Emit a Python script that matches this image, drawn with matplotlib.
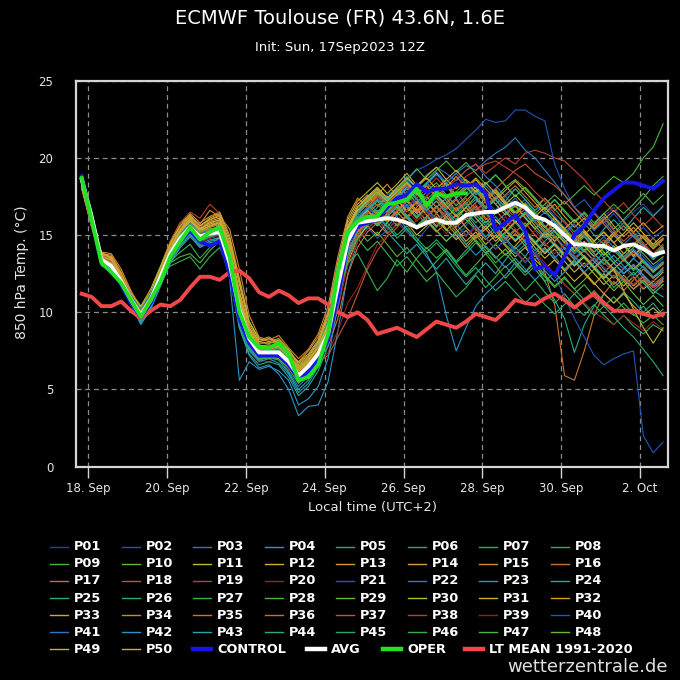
import numpy as np
import matplotlib
matplotlib.use("Agg")
import matplotlib.pyplot as plt
from matplotlib.lines import Line2D

# forecast steps (hours after init, 17 Sep 12Z = 14:00 local)
init_local = np.datetime64("2023-09-17T14:00")
hours = np.arange(6, 361, 6)
times = init_local + hours.astype("timedelta64[h]")

tick_days = np.arange(np.datetime64("2023-09-18"), np.datetime64("2023-10-03"), np.timedelta64(2, "D"))
tick_labels = ["18. Sep", "20. Sep", "22. Sep", "24. Sep", "26. Sep", "28. Sep", "30. Sep", "2. Oct"]

# ensemble members P01..P50 (850 hPa temperature, degC)
p01 = [18.9, 16.5, 13.6, 12.8, 11.7, 10.5, 9.6, 11.0, 12.6, 14.1, 15.0, 15.8, 14.6, 15.5, 15.0, 12.8, 9.8, 8.0, 7.1, 7.6,
       7.2, 6.5, 5.6, 6.3, 7.8, 10.2, 13.4, 15.5, 16.2, 16.6, 17.0, 16.4, 17.3, 17.8, 17.0, 17.6, 18.2, 17.5, 17.0, 17.9,
       18.3, 17.6, 18.0, 17.1, 16.4, 17.0, 16.2, 15.5, 16.0, 15.2, 15.8, 16.4, 15.6, 16.2, 16.8, 15.9, 16.5, 17.0, 16.3, 16.8]
p02 = [18.4, 15.8, 13.1, 13.2, 12.3, 11.0, 10.0, 10.9, 12.0, 13.5, 14.4, 15.1, 14.2, 14.6, 14.9, 13.5, 10.8, 8.6, 7.6, 7.4,
       7.7, 7.0, 6.1, 6.6, 7.0, 8.0, 10.6, 13.8, 15.0, 15.5, 14.8, 15.3, 16.0, 15.2, 14.6, 15.4, 16.1, 15.3, 14.8, 15.6,
       16.5, 17.2, 16.6, 17.5, 18.0, 17.3, 16.6, 17.0, 16.2, 15.5, 14.8, 15.3, 14.6, 15.2, 14.5, 13.8, 14.4, 13.6, 12.9, 13.5]
p03 = [18.7, 16.3, 13.5, 12.9, 11.8, 10.9, 9.9, 10.7, 12.5, 14.0, 15.2, 15.6, 15.2, 14.8, 15.4, 13.0, 9.5, 7.8, 7.0, 7.2,
       7.0, 6.2, 5.2, 5.9, 6.8, 8.5, 11.8, 15.0, 16.5, 17.2, 17.8, 17.2, 18.0, 18.6, 18.1, 18.9, 19.4, 19.0, 18.5, 19.2,
       19.6, 18.8, 18.2, 17.5, 16.8, 17.3, 16.5, 15.6, 15.0, 14.2, 13.5, 14.1, 13.3, 12.6, 13.2, 12.5, 13.0, 12.2, 11.6, 12.0]
p04 = [18.5, 16.0, 13.2, 13.1, 12.1, 10.7, 9.5, 10.5, 12.1, 13.6, 14.6, 15.3, 14.8, 15.0, 14.6, 12.5, 9.0, 7.2, 6.4, 6.6,
       6.0, 5.0, 3.3, 3.9, 4.0, 5.5, 8.8, 12.5, 14.6, 15.8, 16.2, 15.5, 16.3, 17.0, 16.2, 16.8, 17.4, 16.6, 16.0, 16.8,
       17.3, 16.5, 15.8, 16.4, 17.0, 16.2, 15.4, 14.8, 15.3, 14.5, 13.8, 14.3, 13.6, 14.2, 13.4, 12.8, 13.5, 12.9, 12.2, 12.7]
p05 = [18.8, 16.4, 13.3, 12.7, 12.2, 11.1, 10.2, 11.2, 12.8, 14.3, 15.3, 16.0, 15.4, 15.8, 15.6, 13.8, 10.5, 8.5, 7.8, 7.6,
       7.9, 7.1, 6.3, 6.9, 7.9, 9.4, 12.2, 15.2, 16.0, 15.4, 16.1, 15.2, 14.5, 13.8, 14.4, 13.6, 12.8, 13.5, 12.6, 11.8,
       12.5, 13.2, 12.5, 13.4, 14.2, 13.6, 14.5, 15.2, 14.6, 15.3, 14.5, 13.9, 14.6, 15.4, 16.0, 15.3, 16.1, 16.8, 16.2, 16.9]
p06 = [18.3, 15.9, 13.6, 13.3, 12.4, 10.9, 9.7, 10.6, 12.2, 13.9, 15.0, 15.7, 15.1, 15.5, 15.8, 14.0, 11.0, 8.8, 7.6, 7.8,
       7.5, 6.9, 6.0, 6.4, 7.2, 8.4, 11.0, 14.2, 15.6, 16.8, 17.5, 16.8, 17.6, 18.4, 17.6, 18.2, 17.5, 16.8, 17.4, 16.5,
       15.8, 16.4, 15.6, 14.8, 15.4, 14.6, 13.8, 14.5, 13.6, 12.8, 13.4, 12.6, 11.8, 12.5, 11.6, 12.2, 11.5, 12.0, 11.2, 11.8]
p07 = [18.6, 16.1, 13.4, 12.9, 11.9, 10.6, 9.4, 10.4, 12.0, 13.4, 14.5, 15.2, 14.5, 14.9, 15.0, 13.0, 10.0, 8.1, 7.3, 7.3,
       7.6, 6.9, 6.0, 6.8, 7.6, 9.0, 12.4, 15.6, 16.6, 16.0, 16.8, 17.4, 16.6, 17.2, 16.4, 15.7, 16.4, 17.1, 16.3, 17.0,
       17.8, 17.1, 16.4, 17.2, 18.0, 17.3, 16.6, 17.4, 16.7, 15.9, 15.2, 15.8, 15.0, 14.4, 15.1, 15.8, 15.1, 14.4, 13.7, 14.3]
p08 = [18.9, 16.6, 13.8, 13.1, 12.0, 10.6, 9.6, 10.9, 12.4, 13.8, 14.9, 15.6, 15.0, 15.3, 15.5, 13.6, 10.4, 8.4, 7.5, 7.4,
       7.3, 6.7, 5.8, 6.3, 7.1, 8.2, 10.8, 13.6, 15.0, 15.8, 16.4, 17.1, 16.3, 16.9, 16.1, 16.8, 17.6, 17.0, 17.8, 18.4,
       17.7, 18.3, 18.9, 18.2, 17.5, 18.1, 17.4, 16.6, 17.3, 16.5, 15.8, 16.4, 15.6, 16.2, 15.4, 16.0, 16.7, 17.4, 18.2, 18.8]
p09 = [18.4, 16.0, 13.0, 12.8, 12.1, 11.2, 10.3, 11.3, 12.7, 13.2, 13.6, 13.8, 13.2, 14.0, 14.6, 13.4, 10.6, 8.6, 7.6, 7.6,
       7.8, 7.2, 6.5, 7.0, 7.7, 8.9, 11.6, 14.4, 15.4, 14.6, 15.2, 14.4, 13.6, 14.2, 13.4, 12.6, 13.3, 14.0, 13.2, 12.4,
       13.1, 13.8, 13.0, 12.2, 12.9, 13.6, 12.8, 12.0, 12.6, 11.8, 11.2, 11.8, 11.0, 10.4, 11.0, 10.3, 9.8, 10.4, 9.6, 10.2]
p10 = [18.7, 16.3, 13.5, 13.0, 12.0, 10.8, 9.9, 10.9, 12.3, 13.9, 15.0, 15.6, 15.2, 15.4, 15.3, 13.4, 10.1, 8.2, 7.4, 7.5,
       7.3, 6.6, 5.7, 6.4, 7.4, 8.8, 12.0, 15.0, 16.4, 17.0, 16.3, 16.9, 17.6, 16.8, 16.1, 16.8, 16.0, 15.3, 16.0, 16.8,
       17.5, 16.8, 17.4, 18.1, 18.6, 18.0, 17.3, 16.6, 15.9, 15.2, 14.5, 15.1, 14.4, 13.7, 14.3, 13.6, 14.2, 14.9, 14.2, 14.8]
p11 = [18.2, 15.7, 13.9, 13.5, 12.5, 11.3, 10.4, 11.5, 13.0, 14.6, 15.8, 16.3, 15.6, 16.0, 16.2, 14.6, 11.8, 9.2, 8.1, 8.0,
       8.2, 7.5, 6.6, 7.1, 8.0, 9.6, 12.6, 15.4, 16.8, 17.4, 18.0, 17.2, 17.8, 18.5, 17.7, 18.3, 19.0, 18.2, 17.4, 18.0,
       18.6, 17.8, 17.0, 16.3, 16.9, 16.1, 15.4, 16.0, 15.2, 14.5, 15.1, 14.3, 13.6, 14.2, 15.0, 14.3, 13.6, 14.3, 13.5, 14.1]
p12 = [18.5, 16.2, 13.7, 13.4, 12.2, 10.9, 9.8, 10.8, 12.4, 14.2, 15.4, 16.1, 15.5, 15.2, 15.7, 13.9, 10.6, 8.6, 7.8, 7.6,
       7.8, 7.0, 6.2, 6.7, 7.3, 8.2, 10.4, 13.2, 14.8, 15.6, 15.0, 15.8, 16.5, 15.8, 15.0, 15.6, 16.2, 15.4, 14.7, 15.3,
       14.6, 13.8, 14.4, 13.7, 14.3, 15.0, 14.2, 13.5, 14.1, 13.3, 12.6, 13.2, 12.5, 11.8, 12.4, 11.7, 12.3, 11.5, 12.0, 12.6]
p13 = [18.1, 15.6, 13.8, 13.7, 12.6, 11.2, 10.1, 11.0, 12.6, 14.4, 15.6, 16.4, 15.8, 16.2, 16.5, 15.0, 12.2, 9.4, 8.2, 8.4,
       8.0, 7.4, 6.8, 7.5, 8.4, 10.0, 13.0, 15.8, 17.0, 17.6, 16.9, 17.5, 16.8, 16.1, 16.7, 15.9, 15.2, 15.8, 15.0, 14.2,
       14.9, 15.6, 14.8, 15.5, 16.2, 15.5, 16.1, 15.3, 14.6, 15.2, 14.4, 15.0, 15.7, 16.4, 15.6, 14.9, 15.5, 14.8, 14.1, 14.7]
p14 = [18.0, 15.5, 13.5, 13.6, 12.4, 11.0, 9.9, 10.9, 12.5, 14.0, 15.1, 15.9, 15.3, 15.6, 15.9, 14.2, 11.2, 8.9, 7.9, 7.7,
       7.9, 7.2, 6.4, 6.9, 7.5, 8.6, 11.2, 14.0, 15.2, 16.0, 16.6, 15.9, 16.5, 17.2, 16.4, 17.0, 17.8, 18.4, 17.6, 18.2,
       17.4, 16.7, 17.3, 16.5, 15.8, 16.4, 15.6, 14.9, 15.5, 14.7, 14.0, 14.6, 13.9, 14.5, 15.2, 14.4, 13.7, 14.3, 13.6, 14.2]
p15 = [18.3, 15.8, 13.9, 13.8, 12.8, 11.4, 10.2, 11.2, 12.9, 14.5, 15.6, 16.2, 15.7, 16.6, 16.2, 15.4, 12.8, 9.8, 8.4, 8.2,
       8.5, 7.7, 7.0, 7.6, 8.6, 10.4, 13.6, 16.2, 17.4, 16.8, 17.6, 18.3, 17.5, 18.1, 17.4, 16.6, 17.2, 16.4, 15.6, 16.2,
       15.4, 14.7, 15.3, 14.5, 15.1, 14.3, 13.6, 14.2, 13.4, 12.7, 13.3, 12.5, 11.8, 12.5, 11.8, 12.4, 11.7, 12.3, 11.6, 12.1]
p16 = [18.4, 15.9, 13.6, 13.3, 12.3, 11.0, 9.9, 10.7, 12.4, 14.1, 15.2, 15.9, 15.2, 15.6, 15.8, 13.6, 10.4, 8.4, 7.6, 7.5,
       7.7, 7.0, 6.1, 6.6, 7.4, 8.7, 11.4, 14.5, 15.8, 16.5, 16.0, 16.8, 17.3, 16.6, 17.2, 16.5, 15.8, 16.4, 15.6, 16.3,
       16.9, 16.1, 15.4, 14.7, 15.3, 14.5, 13.8, 12.6, 10.5, 5.9, 5.6, 7.5, 9.8, 11.2, 12.0, 11.4, 12.1, 12.8, 12.2, 12.9]
p17 = [18.2, 15.7, 13.4, 13.5, 12.5, 11.1, 10.0, 10.8, 12.2, 13.6, 14.7, 15.4, 14.9, 15.2, 15.4, 13.3, 9.8, 7.9, 7.2, 7.0,
       7.3, 6.6, 5.9, 6.5, 7.0, 7.8, 9.6, 12.4, 14.2, 15.2, 15.8, 15.1, 15.7, 16.3, 15.6, 16.2, 16.9, 16.2, 15.5, 16.1,
       16.8, 16.0, 16.6, 15.9, 15.2, 15.8, 15.0, 14.3, 14.9, 14.1, 13.4, 14.0, 13.3, 12.6, 13.2, 12.5, 13.1, 12.4, 11.8, 12.3]
p18 = [18.6, 16.2, 13.2, 13.2, 12.2, 10.8, 9.8, 10.6, 12.1, 13.7, 14.8, 15.5, 14.8, 15.1, 15.3, 13.2, 10.0, 8.0, 7.2, 7.3,
       7.1, 6.4, 5.5, 6.1, 6.8, 8.0, 10.2, 13.4, 15.0, 16.0, 16.6, 16.0, 16.6, 17.3, 16.6, 17.2, 16.5, 17.1, 17.8, 17.0,
       16.2, 16.9, 17.5, 16.8, 16.1, 16.7, 15.9, 15.2, 15.8, 15.0, 14.3, 14.9, 14.1, 14.7, 14.0, 13.3, 13.9, 13.2, 12.6, 13.1]
p19 = [18.8, 16.4, 13.7, 13.4, 12.1, 10.9, 10.0, 11.1, 12.8, 14.6, 15.8, 16.5, 16.1, 17.0, 16.4, 14.2, 10.8, 8.6, 7.6, 7.7,
       7.5, 6.8, 6.0, 6.6, 7.5, 9.0, 12.0, 15.0, 16.2, 16.8, 17.4, 16.7, 17.4, 18.0, 17.4, 18.0, 18.7, 18.0, 18.6, 19.2,
       19.6, 19.0, 19.5, 20.0, 19.6, 20.3, 20.5, 20.3, 20.0, 19.8, 19.2, 18.6, 17.8, 17.2, 16.5, 17.1, 16.3, 15.6, 16.2, 15.5]
p20 = [18.5, 16.0, 13.3, 13.1, 12.0, 10.7, 9.6, 10.5, 11.9, 13.2, 14.2, 14.9, 14.3, 14.5, 14.6, 12.6, 9.4, 7.6, 6.9, 6.8,
       7.0, 6.3, 5.5, 6.0, 6.6, 7.4, 8.8, 10.6, 11.6, 13.0, 14.4, 15.0, 15.8, 15.2, 16.0, 16.7, 16.0, 16.6, 17.3, 16.5,
       17.0, 16.3, 15.6, 16.2, 15.4, 14.7, 15.3, 14.5, 13.8, 14.4, 13.7, 13.0, 13.6, 12.9, 12.3, 12.9, 12.2, 11.6, 12.1, 11.5]
p21 = [18.7, 16.3, 13.5, 13.0, 11.9, 10.8, 9.8, 10.8, 12.4, 14.0, 15.0, 15.6, 15.0, 15.3, 15.4, 13.4, 10.3, 8.4, 7.5, 7.4,
       7.3, 6.7, 5.8, 6.4, 7.4, 9.2, 12.8, 15.4, 16.0, 16.6, 17.2, 17.6, 18.0, 18.6, 19.2, 19.5, 19.9, 20.2, 20.6, 21.2,
       21.8, 22.5, 22.3, 22.4, 23.1, 23.1, 22.7, 22.4, 19.6, 18.0, 16.8, 17.3, 16.5, 15.8, 16.4, 15.6, 14.9, 15.5, 14.8, 15.3]
p22 = [18.6, 16.1, 13.2, 12.9, 12.0, 10.9, 9.9, 10.9, 12.2, 13.7, 14.6, 15.3, 14.7, 15.0, 15.2, 13.1, 9.9, 8.1, 7.3, 7.3,
       7.2, 6.6, 5.7, 6.2, 7.1, 8.6, 11.8, 14.8, 16.0, 16.7, 17.3, 16.8, 17.5, 18.2, 17.6, 18.3, 18.9, 18.4, 19.0, 19.5,
       19.2, 19.8, 20.3, 20.7, 21.3, 20.5, 20.0, 19.2, 18.4, 17.6, 16.8, 16.0, 15.3, 15.9, 15.1, 14.4, 15.0, 14.3, 13.6, 14.1]
p23 = [18.5, 16.0, 13.4, 13.1, 12.1, 10.7, 9.4, 10.4, 11.9, 13.4, 14.4, 15.1, 14.4, 14.7, 14.8, 12.4, 9.2, 7.5, 6.8, 7.0,
       6.7, 6.0, 4.8, 5.4, 6.5, 8.4, 11.8, 14.8, 16.1, 16.8, 16.2, 16.9, 16.2, 15.4, 14.6, 13.8, 12.6, 9.8, 7.5, 9.0,
       10.4, 11.2, 11.8, 12.4, 13.2, 12.6, 13.4, 14.1, 13.5, 14.2, 13.6, 12.9, 13.5, 12.8, 12.2, 12.8, 13.5, 14.1, 13.4, 14.0]
p24 = [18.4, 15.9, 13.3, 13.2, 12.3, 11.0, 9.9, 10.9, 12.3, 13.8, 14.9, 15.5, 15.0, 15.2, 15.6, 13.7, 10.6, 8.4, 7.5, 7.6,
       7.4, 6.7, 5.9, 6.5, 7.3, 8.8, 12.2, 15.2, 16.6, 17.3, 17.9, 17.3, 18.0, 18.8, 18.0, 17.3, 17.9, 17.2, 16.5, 17.1,
       16.3, 15.6, 16.2, 15.4, 14.7, 15.3, 14.6, 13.9, 14.5, 13.8, 13.1, 13.7, 13.0, 12.3, 12.9, 12.2, 11.5, 12.1, 11.4, 11.0]
p25 = [18.8, 16.4, 13.6, 13.0, 11.8, 10.5, 9.3, 10.3, 11.8, 13.3, 14.3, 15.0, 14.3, 14.6, 14.7, 12.3, 9.0, 7.3, 6.6, 6.8,
       6.6, 5.8, 4.6, 5.2, 6.2, 7.8, 11.0, 14.2, 15.6, 16.3, 15.7, 16.4, 17.0, 16.3, 15.6, 16.2, 15.5, 16.1, 16.8, 16.0,
       15.3, 15.9, 15.1, 14.4, 13.8, 14.4, 13.2, 12.0, 10.8, 9.6, 7.4, 9.2, 10.4, 11.2, 10.6, 11.3, 10.7, 10.0, 10.6, 9.8]
p26 = [18.6, 16.2, 13.5, 13.1, 12.1, 10.9, 9.8, 10.7, 12.3, 13.9, 14.9, 15.6, 15.1, 15.3, 15.2, 13.2, 10.0, 8.2, 7.4, 7.4,
       7.6, 6.8, 5.9, 6.6, 7.6, 9.4, 12.8, 15.6, 16.4, 15.8, 16.5, 15.8, 15.0, 15.6, 14.8, 14.1, 14.7, 14.0, 13.2, 13.8,
       14.5, 13.8, 14.4, 15.1, 15.8, 15.1, 14.4, 15.0, 14.3, 13.6, 14.2, 13.5, 12.8, 13.4, 12.7, 12.0, 12.6, 11.9, 11.2, 11.8]
p27 = [18.3, 15.8, 13.1, 12.8, 12.0, 11.0, 10.1, 11.0, 12.4, 13.3, 13.9, 14.4, 13.5, 14.2, 14.9, 13.3, 10.3, 8.2, 7.3, 7.2,
       7.4, 6.7, 5.6, 6.1, 6.9, 8.1, 10.9, 13.6, 14.8, 14.0, 14.6, 13.8, 13.0, 13.6, 12.8, 12.0, 12.6, 11.8, 11.0, 11.6,
       12.4, 11.6, 12.3, 13.0, 12.2, 11.4, 12.1, 11.3, 10.6, 11.2, 10.4, 9.8, 10.5, 9.8, 9.2, 9.8, 9.1, 8.6, 9.2, 8.8]
p28 = [18.7, 16.3, 13.4, 12.9, 11.9, 10.7, 9.7, 10.8, 12.3, 13.9, 14.9, 15.7, 15.1, 15.2, 15.4, 13.4, 10.2, 8.3, 7.5, 7.5,
       7.5, 6.9, 6.0, 6.5, 7.4, 8.9, 12.1, 15.0, 16.0, 16.6, 17.2, 16.5, 17.1, 17.8, 17.1, 17.8, 18.4, 17.6, 16.9, 17.5,
       18.1, 17.4, 18.0, 17.2, 16.5, 17.1, 16.4, 17.0, 17.6, 17.0, 17.6, 18.2, 17.6, 18.2, 18.8, 18.4, 19.0, 20.0, 20.7, 22.2]
p29 = [18.5, 16.1, 13.2, 12.8, 11.8, 10.6, 9.5, 10.6, 12.1, 13.6, 14.7, 15.4, 14.8, 15.0, 15.1, 12.9, 9.6, 7.8, 7.0, 7.1,
       7.0, 6.4, 5.4, 6.0, 6.9, 8.3, 11.4, 14.6, 15.8, 16.4, 17.0, 16.4, 15.6, 16.2, 15.5, 16.1, 16.8, 16.0, 15.2, 14.4,
       15.0, 14.2, 13.5, 14.1, 13.3, 12.6, 13.2, 12.4, 11.7, 12.3, 11.5, 12.1, 12.8, 12.1, 11.4, 12.0, 11.2, 10.5, 11.1, 10.4]
p30 = [18.2, 15.8, 13.8, 13.5, 12.4, 11.2, 10.3, 11.3, 12.9, 14.5, 15.6, 16.2, 15.6, 16.1, 16.4, 14.8, 12.0, 9.4, 8.3, 8.1,
       8.3, 7.6, 6.7, 7.2, 8.1, 9.9, 13.2, 16.0, 17.2, 17.8, 18.4, 17.7, 18.3, 19.0, 18.2, 18.8, 19.4, 18.6, 18.0, 18.6,
       18.0, 17.3, 17.9, 17.1, 16.4, 17.0, 16.2, 15.5, 16.1, 15.3, 14.6, 15.2, 14.4, 13.7, 14.3, 13.5, 12.8, 13.4, 12.6, 13.2]
p31 = [18.3, 15.9, 13.6, 13.4, 12.3, 11.1, 10.0, 11.0, 12.6, 14.2, 15.3, 16.0, 15.4, 15.7, 16.0, 14.0, 10.9, 8.8, 7.8, 7.9,
       7.7, 7.1, 6.3, 6.8, 7.6, 9.0, 12.0, 14.8, 16.0, 16.6, 16.0, 16.6, 17.3, 16.5, 17.1, 16.3, 15.6, 16.2, 15.4, 14.6,
       15.2, 14.4, 15.0, 14.3, 13.6, 14.2, 13.4, 12.8, 13.4, 12.7, 12.0, 12.6, 11.9, 11.2, 10.6, 11.2, 10.4, 9.8, 10.3, 9.7]
p32 = [18.1, 15.6, 13.7, 13.6, 12.5, 11.2, 10.1, 11.1, 12.7, 14.3, 15.4, 16.2, 15.6, 16.0, 16.3, 14.4, 11.4, 9.0, 8.0, 8.0,
       8.1, 7.3, 6.5, 7.0, 7.8, 9.2, 12.3, 15.2, 16.5, 17.1, 17.7, 17.0, 17.6, 18.3, 17.6, 18.2, 17.5, 18.1, 18.8, 18.1,
       18.7, 18.0, 17.3, 17.9, 18.5, 17.8, 17.1, 16.4, 17.0, 16.2, 15.5, 16.1, 15.4, 16.0, 16.6, 15.9, 15.2, 15.8, 15.1, 15.6]
p33 = [18.4, 15.9, 13.8, 13.6, 12.4, 11.1, 10.0, 10.9, 12.5, 14.1, 15.2, 15.9, 15.3, 15.9, 16.1, 14.3, 11.2, 9.0, 8.1, 8.3,
       8.0, 7.4, 6.8, 7.3, 8.2, 9.8, 12.8, 15.6, 16.8, 17.4, 18.0, 17.4, 18.0, 17.3, 16.6, 17.2, 16.4, 15.7, 16.3, 15.5,
       14.8, 15.4, 14.6, 15.2, 15.9, 15.2, 14.5, 15.1, 14.4, 13.7, 14.3, 13.6, 12.9, 13.5, 12.8, 13.4, 14.0, 13.3, 12.7, 13.2]
p34 = [18.2, 15.7, 13.5, 13.4, 12.4, 11.0, 9.9, 10.9, 12.4, 14.0, 15.0, 15.8, 15.2, 15.5, 15.7, 13.9, 10.8, 8.7, 7.8, 7.6,
       7.8, 7.1, 6.2, 6.7, 7.4, 8.6, 11.2, 14.2, 15.6, 16.3, 15.7, 16.4, 17.0, 16.2, 16.8, 17.5, 16.8, 17.4, 16.6, 17.2,
       17.9, 17.2, 17.8, 17.0, 16.3, 16.9, 16.2, 15.5, 16.1, 15.4, 14.7, 15.3, 14.6, 15.2, 14.5, 13.8, 14.4, 15.0, 14.3, 14.8]
p35 = [18.5, 16.1, 13.4, 13.2, 12.2, 10.9, 9.7, 10.7, 12.2, 13.8, 14.8, 15.6, 14.9, 15.4, 15.5, 13.5, 10.3, 8.3, 7.5, 7.6,
       7.4, 6.8, 5.9, 6.4, 7.1, 8.4, 11.0, 13.8, 15.2, 15.9, 16.5, 15.9, 16.5, 17.2, 16.5, 17.1, 16.4, 15.7, 16.3, 15.5,
       14.8, 15.4, 16.0, 15.3, 14.6, 15.2, 14.5, 13.8, 14.4, 13.7, 13.0, 13.6, 12.9, 12.2, 12.8, 12.1, 11.5, 12.1, 11.4, 12.0]
p36 = [18.6, 16.2, 13.7, 13.3, 12.2, 10.8, 9.8, 10.8, 12.5, 14.2, 15.3, 16.0, 15.5, 15.9, 15.9, 14.2, 11.0, 8.8, 7.8, 7.7,
       7.9, 7.2, 6.4, 6.9, 7.7, 9.1, 12.2, 15.2, 16.4, 17.0, 17.6, 17.0, 17.7, 18.3, 17.6, 18.2, 17.4, 16.7, 17.3, 16.5,
       17.1, 17.8, 17.0, 17.6, 18.2, 17.5, 16.8, 17.4, 16.6, 17.2, 16.5, 15.8, 16.4, 15.7, 15.0, 15.6, 14.9, 14.2, 14.8, 14.1]
p37 = [18.4, 15.9, 13.3, 13.3, 12.3, 11.0, 9.9, 10.8, 12.2, 13.6, 14.6, 15.3, 14.6, 14.9, 15.1, 13.0, 9.7, 7.8, 7.0, 7.1,
       7.3, 6.6, 5.7, 6.2, 6.8, 7.2, 8.4, 9.6, 11.2, 12.8, 14.0, 14.9, 15.5, 16.2, 15.5, 16.1, 16.8, 16.1, 16.7, 17.4,
       16.6, 17.2, 18.0, 18.6, 19.2, 19.6, 19.0, 18.6, 18.2, 17.6, 16.8, 16.2, 15.5, 16.1, 15.3, 14.6, 15.2, 14.5, 13.8, 14.4]
p38 = [18.7, 16.4, 13.6, 13.2, 12.1, 10.9, 9.9, 10.8, 12.3, 13.9, 15.0, 15.7, 15.1, 15.4, 15.4, 13.5, 10.4, 8.4, 7.5, 7.5,
       7.6, 7.0, 6.1, 6.7, 7.6, 9.0, 11.8, 14.6, 15.8, 16.4, 17.0, 16.4, 17.0, 17.6, 16.9, 17.5, 18.2, 17.5, 18.1, 18.8,
       19.2, 19.6, 19.8, 19.4, 19.0, 18.5, 17.8, 17.2, 16.4, 15.8, 15.0, 14.4, 13.8, 13.2, 12.6, 12.2, 11.8, 12.4, 11.6, 12.2]
p39 = [18.5, 16.0, 13.2, 13.0, 12.0, 10.8, 9.8, 10.6, 12.0, 13.5, 14.5, 15.2, 14.5, 14.8, 15.0, 12.9, 9.7, 7.9, 7.1, 7.2,
       7.1, 6.5, 5.6, 6.2, 7.0, 8.1, 10.4, 13.0, 14.6, 15.4, 16.0, 15.4, 16.0, 16.6, 15.9, 16.5, 15.8, 15.1, 15.7, 14.9,
       15.5, 14.8, 14.1, 14.7, 14.0, 13.3, 13.9, 13.2, 12.5, 11.8, 11.2, 10.6, 10.0, 9.6, 9.2, 9.8, 9.3, 8.8, 9.4, 8.9]
p40 = [18.6, 16.2, 13.4, 13.0, 12.0, 10.9, 9.8, 10.8, 12.2, 13.8, 14.8, 15.4, 14.9, 15.1, 15.3, 13.3, 10.1, 8.2, 7.3, 7.4,
       7.2, 6.5, 5.6, 6.2, 7.1, 8.7, 12.0, 15.0, 16.2, 16.8, 16.2, 16.9, 17.5, 16.8, 17.4, 16.6, 15.9, 16.5, 15.7, 15.0,
       15.6, 14.8, 14.1, 14.7, 13.9, 13.2, 13.8, 13.0, 12.4, 11.0, 9.6, 8.4, 7.2, 6.6, 7.0, 7.3, 7.5, 2.0, 0.9, 1.6]
p41 = [18.3, 15.8, 13.1, 13.0, 12.2, 11.1, 10.2, 11.2, 12.6, 14.2, 15.1, 15.8, 15.3, 15.0, 15.5, 13.6, 10.6, 8.5, 7.6, 7.5,
       7.7, 7.0, 6.0, 6.5, 7.3, 8.4, 11.4, 14.8, 16.4, 17.2, 17.8, 17.1, 17.8, 18.5, 17.8, 18.4, 19.1, 18.4, 19.0, 18.3,
       17.6, 18.2, 17.5, 16.8, 17.4, 16.6, 15.9, 16.5, 15.8, 15.1, 15.7, 15.0, 14.3, 14.9, 14.2, 13.5, 14.1, 13.4, 12.8, 13.3]
p42 = [18.9, 16.5, 13.6, 12.9, 11.8, 10.5, 9.2, 10.2, 11.7, 13.2, 14.2, 14.9, 14.2, 14.5, 14.6, 12.2, 5.6, 6.8, 6.3, 6.5,
       6.2, 5.6, 4.0, 4.4, 5.2, 7.0, 10.4, 13.8, 15.4, 16.2, 15.6, 16.3, 16.9, 16.2, 15.4, 16.0, 15.3, 14.6, 15.2, 14.4,
       13.7, 14.3, 13.6, 12.9, 13.5, 12.8, 12.1, 12.7, 12.0, 12.6, 13.3, 12.6, 13.2, 13.9, 13.2, 12.5, 13.1, 12.4, 11.7, 12.2]
p43 = [18.6, 16.1, 13.3, 13.0, 12.0, 10.8, 9.6, 10.6, 12.1, 13.7, 14.7, 15.4, 14.7, 15.0, 15.1, 12.8, 9.4, 7.6, 6.9, 7.1,
       6.9, 6.1, 5.0, 5.6, 6.6, 8.2, 11.6, 14.6, 16.0, 16.7, 17.3, 16.7, 17.4, 18.0, 17.3, 16.6, 17.2, 16.5, 15.8, 16.4,
       15.6, 14.9, 15.5, 14.8, 14.1, 14.7, 14.0, 14.6, 15.3, 14.6, 13.9, 14.5, 13.8, 13.1, 13.7, 13.0, 12.4, 13.0, 12.3, 12.8]
p44 = [18.4, 15.9, 13.2, 13.1, 12.1, 10.9, 9.9, 10.9, 12.4, 13.9, 14.9, 15.5, 14.9, 15.2, 15.4, 13.5, 10.3, 8.3, 7.4, 7.5,
       7.5, 6.9, 6.0, 6.6, 7.5, 9.0, 12.3, 15.3, 16.5, 17.1, 16.5, 17.2, 17.9, 17.1, 17.7, 18.4, 17.7, 18.3, 17.5, 18.1,
       17.4, 16.7, 17.3, 16.6, 15.9, 16.5, 15.8, 15.1, 15.7, 15.0, 14.3, 14.9, 14.2, 13.5, 14.1, 13.4, 12.7, 13.3, 12.6, 13.2]
p45 = [18.6, 16.2, 13.4, 13.0, 11.9, 10.6, 9.5, 10.5, 12.0, 13.5, 14.5, 15.2, 14.6, 14.9, 15.1, 13.1, 9.9, 8.0, 7.2, 7.2,
       7.4, 6.7, 5.8, 6.4, 7.2, 8.6, 11.9, 15.0, 16.2, 15.6, 16.3, 15.6, 14.8, 15.4, 14.6, 13.9, 14.5, 13.8, 13.0, 12.3,
       12.9, 12.1, 11.4, 12.0, 11.3, 10.6, 11.2, 10.5, 9.9, 10.5, 11.2, 10.5, 9.8, 10.4, 9.7, 9.0, 8.4, 7.6, 6.8, 5.9]
p46 = [18.5, 16.1, 13.3, 12.9, 12.0, 10.9, 9.9, 10.9, 12.3, 13.0, 13.3, 13.6, 12.8, 13.6, 14.2, 12.6, 9.5, 7.7, 7.0, 7.0,
       7.2, 6.5, 5.5, 6.0, 6.8, 8.2, 11.2, 13.2, 13.8, 12.6, 11.4, 12.2, 13.4, 12.6, 13.5, 14.2, 13.5, 14.1, 13.3, 14.0,
       14.7, 14.0, 13.2, 13.8, 13.1, 12.4, 13.0, 12.3, 11.6, 12.2, 11.5, 10.8, 11.4, 10.7, 10.0, 10.6, 9.9, 9.3, 9.8, 9.2]
p47 = [18.7, 16.3, 13.5, 13.1, 12.0, 10.8, 9.8, 10.9, 12.4, 14.0, 15.0, 15.7, 15.2, 15.4, 15.5, 13.6, 10.5, 8.5, 7.6, 7.5,
       7.7, 7.0, 6.0, 6.5, 7.3, 8.8, 12.0, 15.2, 16.6, 17.3, 17.9, 17.2, 17.9, 18.6, 19.3, 18.6, 19.2, 19.8, 19.1, 19.7,
       19.0, 18.3, 18.9, 18.2, 17.5, 18.1, 17.4, 16.7, 17.3, 16.6, 15.9, 16.5, 15.8, 16.4, 17.0, 16.4, 17.0, 17.7, 17.0, 17.6]
p48 = [18.4, 16.0, 13.3, 12.9, 12.0, 10.8, 9.6, 10.8, 12.2, 13.7, 14.8, 15.4, 14.9, 15.1, 15.2, 13.4, 10.2, 8.3, 7.4, 7.4,
       7.3, 6.7, 5.7, 6.3, 7.1, 8.5, 11.5, 14.4, 15.6, 16.2, 15.6, 16.2, 16.8, 16.1, 15.4, 16.0, 15.3, 14.6, 15.2, 15.8,
       16.5, 15.8, 16.4, 17.0, 16.3, 15.6, 16.2, 15.5, 14.8, 15.4, 14.7, 14.0, 14.6, 13.9, 13.2, 13.8, 14.4, 13.8, 13.1, 13.6]
p49 = [18.3, 15.8, 13.6, 13.4, 12.3, 11.0, 10.0, 11.0, 12.6, 14.2, 15.3, 16.0, 15.4, 15.8, 16.0, 14.2, 11.0, 8.8, 7.8, 7.8,
       7.9, 7.2, 6.4, 6.9, 7.7, 9.2, 12.4, 15.4, 16.6, 17.2, 17.8, 17.2, 17.8, 18.4, 17.7, 17.0, 17.6, 16.9, 16.2, 16.8,
       16.1, 15.4, 16.0, 15.3, 14.6, 15.2, 14.5, 13.8, 14.4, 13.7, 13.0, 13.6, 12.9, 12.2, 12.8, 11.4, 10.2, 9.0, 8.0, 9.0]
p50 = [18.5, 16.1, 13.5, 13.2, 12.2, 11.0, 9.9, 10.9, 12.5, 14.1, 15.2, 15.9, 15.3, 15.6, 15.8, 13.9, 10.9, 8.7, 7.7, 7.7,
       7.8, 7.1, 6.2, 6.7, 7.5, 9.1, 12.4, 15.4, 16.8, 17.5, 18.1, 17.4, 18.1, 18.7, 18.1, 18.7, 18.0, 18.6, 19.2, 18.5,
       17.8, 18.4, 17.7, 17.0, 17.6, 16.9, 16.2, 16.8, 16.1, 15.4, 16.0, 15.3, 14.6, 15.2, 14.5, 15.1, 15.8, 15.1, 14.4, 15.0]

control = [18.8, 16.0, 13.3, 13.0, 11.8, 10.6, 9.7, 10.6, 12.2, 13.6, 14.6, 15.3, 14.6, 14.3, 14.6, 12.6, 9.6, 8.0, 7.2, 7.2,
           7.2, 6.6, 5.7, 6.2, 7.0, 8.2, 11.0, 14.5, 15.6, 15.8, 16.0, 16.8, 17.4, 17.6, 18.3, 17.8, 18.0, 18.0, 18.3, 18.2,
           18.3, 17.7, 15.3, 15.8, 16.3, 15.3, 12.8, 13.0, 12.4, 13.6, 15.0, 15.6, 16.6, 17.4, 17.9, 18.4, 18.4, 18.2, 18.0, 18.5]
avg = [18.6, 16.2, 13.4, 13.0, 12.0, 10.8, 9.8, 10.8, 12.3, 13.8, 14.8, 15.5, 14.9, 15.1, 15.2, 13.2, 10.2, 8.3, 7.4, 7.4,
       7.4, 6.8, 5.9, 6.5, 7.3, 8.6, 11.7, 14.6, 15.8, 15.9, 16.0, 16.1, 16.0, 15.8, 15.5, 15.8, 16.0, 15.8, 15.8, 16.3,
       16.4, 16.5, 16.5, 16.8, 17.1, 16.8, 16.2, 16.0, 15.6, 15.0, 14.4, 14.4, 14.3, 14.3, 14.0, 14.3, 14.4, 14.1, 13.7, 13.9]
# operational run stops at +240h
oper = [18.7, 16.0, 13.2, 12.6, 11.9, 10.8, 9.7, 10.8, 12.0, 13.6, 14.6, 15.5, 14.7, 15.2, 15.5, 13.6, 10.0, 8.4, 7.7, 7.7,
        8.0, 7.3, 5.6, 5.8, 6.6, 8.6, 12.6, 15.2, 15.9, 16.2, 16.2, 17.0, 17.1, 17.3, 18.0, 16.9, 17.7, 17.5, 17.7, 17.7]
lt_mean = [11.2, 11.0, 10.4, 10.4, 10.7, 10.1, 9.6, 10.1, 10.5, 10.4, 10.8, 11.6, 12.3, 12.3, 12.1, 12.6, 12.7, 12.2, 11.3, 11.0,
           11.4, 11.1, 10.6, 10.9, 10.9, 10.5, 10.0, 9.7, 10.0, 9.5, 8.6, 8.8, 9.0, 8.7, 8.4, 8.9, 9.4, 9.2, 9.0, 9.4,
           9.9, 9.7, 9.5, 10.1, 10.8, 10.6, 10.5, 10.9, 11.2, 10.8, 10.3, 10.8, 11.2, 10.6, 10.1, 10.1, 10.1, 9.9, 9.7, 9.9]

members = [p01, p02, p03, p04, p05, p06, p07, p08, p09, p10, p11, p12, p13, p14, p15, p16, p17, p18, p19, p20,
           p21, p22, p23, p24, p25, p26, p27, p28, p29, p30, p31, p32, p33, p34, p35, p36, p37, p38, p39, p40,
           p41, p42, p43, p44, p45, p46, p47, p48, p49, p50]
member_names = ["P%02d" % k for k in range(1, 51)]

bad = [(member_names[k], len(v)) for k, v in enumerate(members) if len(v) != len(times)]
assert not bad and len(control) == len(avg) == len(lt_mean) == len(times) and len(oper) == 40, bad

# colour cycle used for the members (P01..P20, then P21.. starts again at the 2nd colour)
palette = ["#2b3f9e", "#2356b8", "#2f77c2", "#2a96c4", "#22a8a8", "#22ab8a", "#27ad68", "#37b04a", "#4cb43e", "#66b834",
           "#bdb830", "#cdb032", "#d69a30", "#d89c44", "#d8852e", "#cf7430", "#cc6c3a", "#bf5630", "#bc3e2c", "#942424"]


def member_color(k):
    if k < 20:
        return palette[k]
    return palette[1 + (k - 20) % 19]


W = 680.0
fig = plt.figure(figsize=(6.8, 6.8), dpi=100, facecolor="black")
ax = fig.add_axes([75.7 / W, 1 - 466.7 / W, (668 - 75.7) / W, (466.7 - 80.7) / W])
ax.set_facecolor("black")

for k, vals in enumerate(members):
    ax.plot(times[:len(vals)], vals, color=member_color(k), lw=0.8, zorder=2)
ax.plot(times, lt_mean, color="#f04848", lw=2.8, zorder=3, solid_joinstyle="round")
ax.plot(times, control, color="#1515e8", lw=2.8, zorder=4, solid_joinstyle="round")
ax.plot(times, avg, color="white", lw=2.8, zorder=5, solid_joinstyle="round")
ax.plot(times[:len(oper)], oper, color="#22e022", lw=2.8, zorder=6, solid_joinstyle="round")

ax.set_ylim(0, 25)
ax.set_yticks([0, 5, 10, 15, 20, 25])
ax.set_xlim(np.datetime64("2023-09-17T16:20"), np.datetime64("2023-10-02T17:00"))
ax.set_xticks(tick_days)
ax.set_xticklabels(tick_labels)

ax.set_axisbelow(True)
ax.grid(True, color="#8a8a8a", linestyle=(0, (4, 3)), linewidth=0.9)
for s in ax.spines.values():
    s.set_color("#d4d4d4")
    s.set_linewidth(1.6)
ax.tick_params(axis="x", colors="#d4d4d4", length=8, width=1, pad=3, labelsize=8.5, labelcolor="#e6e6e6")
ax.tick_params(axis="y", length=0, pad=16, labelsize=8.5, labelcolor="#e6e6e6")


def fpos(x, y):
    return x / W, 1 - y / W


fig.text(*fpos(340, 18), "ECMWF Toulouse (FR) 43.6N, 1.6E", ha="center", va="center", color="white", fontsize=14)
fig.text(*fpos(340, 47), "Init: Sun, 17Sep2023 12Z", ha="center", va="center", color="white", fontsize=9.5)
fig.text(*fpos(22, 272), "850 hPa Temp. (°C)", rotation=90, ha="center", va="center", color="#e6e6e6", fontsize=10)
fig.text(*fpos(372, 507), "Local time (UTC+2)", ha="center", va="center", color="#e6e6e6", fontsize=9.5)


def legend_item(x, y, color, label, lw):
    x0, y0 = fpos(x, y)
    x1, _ = fpos(x + 18, y)
    fig.add_artist(Line2D([x0, x1], [y0, y0], transform=fig.transFigure, color=color, lw=lw))
    fig.text(*fpos(x + 24, y), label, ha="left", va="center", color="white", fontsize=9.3, fontweight="bold")


col_x = [50, 121.5, 193, 264.5, 336, 407.5, 479, 550.5]
row_y = [546.7 + 17.1 * r for r in range(7)]
for k, name in enumerate(member_names):
    legend_item(col_x[k % 8], row_y[k // 8], member_color(k), name, 1.0)
legend_item(193, row_y[6], "#1515e8", "CONTROL", 3.2)
legend_item(307, row_y[6], "white", "AVG", 3.2)
legend_item(383, row_y[6], "#22e022", "OPER", 3.2)
legend_item(465, row_y[6], "#f04848", "LT MEAN 1991-2020", 3.2)

fig.text(*fpos(668, 667), "wetterzentrale.de", ha="right", va="center", color="#e0e0e0", fontsize=13)

fig.savefig("out.png", dpi=100, facecolor="black")
